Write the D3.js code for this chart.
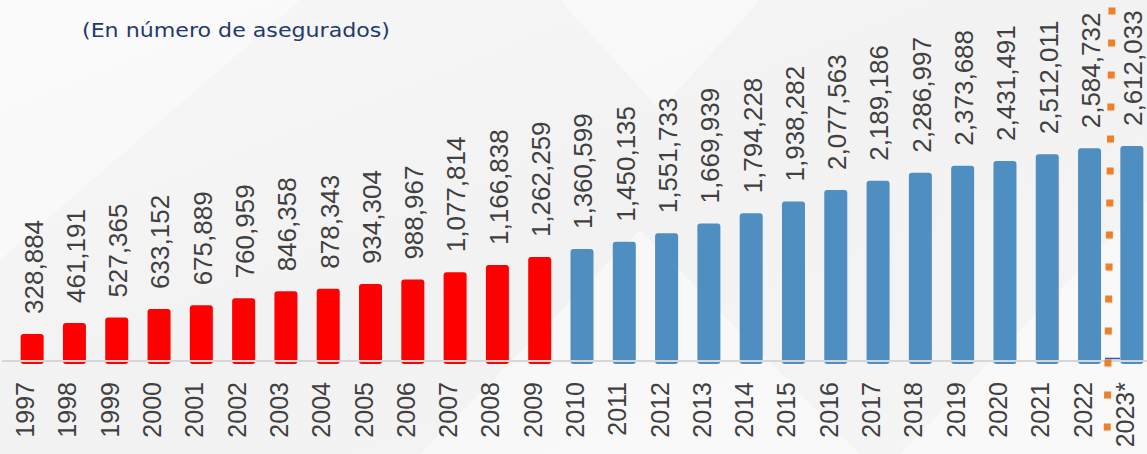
<!DOCTYPE html>
<html>
<head>
<meta charset="utf-8">
<script src="https://cdn.jsdelivr.net/npm/d3@7"></script>
<style>
html,body{margin:0;padding:0;background:#f4f4f4;overflow:hidden;}
svg{display:block;}
</style>
</head>
<body>
<svg id="chart" width="1147" height="454"></svg>
<script>
const title = "(En número de asegurados)";
const years = ["1997","1998","1999","2000","2001","2002","2003","2004","2005","2006","2007","2008","2009","2010","2011","2012","2013","2014","2015","2016","2017","2018","2019","2020","2021","2022","2023*"];
const values = [328884,461191,527365,633152,675889,760959,846358,878343,934304,988967,1077814,1166838,1262259,1360599,1450135,1551733,1669939,1794228,1938282,2077563,2189186,2286997,2373688,2431491,2512011,2584732,2612033];
const groups = ["old","old","old","old","old","old","old","old","old","old","old","old","old","new","new","new","new","new","new","new","new","new","new","new","new","new","new"];
const groupColors = {old:"#ff0000", new:"#4f8ec1"};
const data = years.map((y,i)=>({year:y, value:values[i], group:groups[i]}));

const W = 1147, H = 454;
const svg = d3.select("#chart");

// background
const defs = svg.append("defs");
const lg = defs.append("linearGradient").attr("id","bg").attr("x1","0").attr("y1","0").attr("x2","1").attr("y2","1");
lg.append("stop").attr("offset","0").attr("stop-color","#f7f7f7");
lg.append("stop").attr("offset","0.5").attr("stop-color","#f2f2f2");
lg.append("stop").attr("offset","1").attr("stop-color","#f5f5f5");
svg.append("rect").attr("width",W).attr("height",H).attr("fill","url(#bg)");
const bgShapes = [
  [[0,0],[300,0],[0,260]],
  [[420,454],[640,230],[860,454]],
  [[560,0],[760,0],[660,110]],
  [[900,454],[1147,200],[1147,454]]
];
svg.append("g").selectAll("path").data(bgShapes).join("path")
  .attr("d", d => "M" + d.map(p=>p.join(",")).join("L") + "Z")
  .attr("fill","#ffffff").attr("opacity",0.45);

const baseY = 361;
const x = d3.scaleBand().domain(years).range([11, 1153]).paddingInner(0.456).paddingOuter(0.228);
const y = d3.scaleLinear().domain([0, 3000000]).range([baseY, baseY - 246.9]);

// bars
svg.append("g").selectAll("rect").data(data).join("rect")
  .attr("x", d => x(d.year))
  .attr("width", x.bandwidth())
  .attr("y", d => y(d.value))
  .attr("height", d => baseY + 3 - y(d.value))
  .attr("rx", 3).attr("ry", 3)
  .attr("fill", d => groupColors[d.group]);

// baseline
svg.append("line").attr("x1",2).attr("x2",W).attr("y1",baseY).attr("y2",baseY)
  .attr("stroke","#d6d6d6").attr("stroke-width",2);

// value labels
const fmt = d3.format(",");
svg.append("g").selectAll("text").data(data).join("text")
  .attr("transform", d => `translate(${x(d.year) + x.bandwidth()/2 + 1},${y(d.value) - 20}) rotate(-90)`)
  .attr("dy","0.36em")
  .attr("text-anchor","start")
  .attr("font-family","'Liberation Sans', Arial, sans-serif")
  .attr("font-size", 26)
  .attr("fill","#404040")
  .text(d => fmt(d.value));

// x axis labels
const xAxis = d3.axisBottom(x).tickSize(0).tickPadding(0);
const gx = svg.append("g").attr("transform", `translate(0,${baseY})`).call(xAxis);
gx.select(".domain").remove();
gx.selectAll(".tick text")
  .attr("transform", "translate(-7,21) rotate(-90)")
  .attr("x", 0).attr("y", 0)
  .attr("dy", "0.36em")
  .attr("text-anchor", "end")
  .attr("font-family","'Liberation Sans', Arial, sans-serif")
  .attr("font-size", 25)
  .attr("fill", "#404040");

// dotted orange marker line
svg.append("line").attr("x1",1112).attr("y1",7.5).attr("x2",1107).attr("y2",447)
  .attr("stroke","#f07f2b").attr("stroke-width",7).attr("stroke-dasharray","7 25");
svg.append("line").attr("x1",1105).attr("y1",358.5).attr("x2",1120).attr("y2",358.5)
  .attr("stroke","#3a55a4").attr("stroke-width",1.5);

// title
svg.append("text").attr("x",82).attr("y",37)
  .attr("font-family","'DejaVu Sans', Verdana, sans-serif")
  .attr("font-size",20)
  .attr("textLength",308).attr("lengthAdjust","spacingAndGlyphs")
  .attr("fill","#1f3a6e")
  .text(title);
</script>
</body>
</html>
